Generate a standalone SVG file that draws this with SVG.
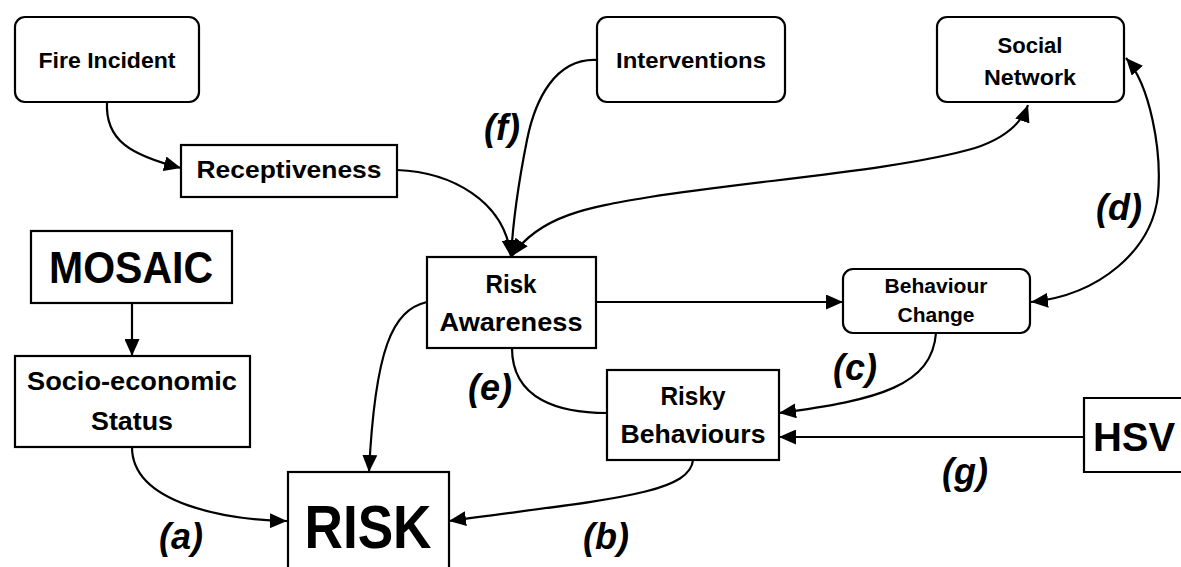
<svg xmlns="http://www.w3.org/2000/svg" width="1181" height="567" viewBox="0 0 1181 567">
<style>
.box{fill:#fff;stroke:#000;stroke-width:2.2}
.t{font-family:"Liberation Sans",Arial,sans-serif;font-weight:bold;fill:#000;text-anchor:middle}
.lbl{font-family:"Liberation Sans",Arial,sans-serif;font-weight:bold;font-style:italic;font-size:36px;fill:#000;text-anchor:middle}
.c{fill:none;stroke:#000;stroke-width:2.2}
</style>
<defs>
<marker id="arr" viewBox="0 0 10 10" refX="10" refY="5" markerWidth="17" markerHeight="15" markerUnits="userSpaceOnUse" orient="auto-start-reverse" preserveAspectRatio="none">
<path d="M0,0 L10,5 L0,10 z" fill="#000"/>
</marker>
</defs>
<rect width="1181" height="567" fill="#fff"/>
<g id="connectors">
<path class="c" d="M107,102 C105,140 130,155 181,168" marker-end="url(#arr)"/>
<path class="c" d="M397,170 C450,172 505,200 511,257" marker-end="url(#arr)"/>
<path class="c" d="M597,60 C555,58 535,100 527,140 C518,185 513,220 511,257" marker-end="url(#arr)"/>
<path class="c" d="M512,256 C540,215 590,207 650,197 C760,180 900,170 975,148 C1005,138 1022,122 1028,105" marker-start="url(#arr)" marker-end="url(#arr)"/>
<path class="c" d="M596,302 L843,302" marker-end="url(#arr)"/>
<path class="c" d="M1126,58 C1150,85 1162,150 1158,195 C1152,250 1100,295 1031,302" marker-start="url(#arr)" marker-end="url(#arr)"/>
<path class="c" d="M936,333 C932,385 880,400 779,413" marker-end="url(#arr)"/>
<path class="c" d="M1084,437 L779,437" marker-end="url(#arr)"/>
<path class="c" d="M512,348 C512,400 560,413 607,413"/>
<path class="c" d="M427,302 C392,310 375,350 369,472" marker-end="url(#arr)"/>
<path class="c" d="M132,447 C132,505 230,520 287,521" marker-end="url(#arr)"/>
<path class="c" d="M693,460 C690,495 600,500 449,521" marker-end="url(#arr)"/>
<path class="c" d="M132,303 L132,356" marker-end="url(#arr)"/>
</g>
<g id="fire-incident">
<rect class="box" x="15" y="17" width="184" height="85" rx="10"/>
<text class="t" x="107" y="68" font-size="22" textLength="137" lengthAdjust="spacingAndGlyphs">Fire Incident</text>
</g>
<g id="receptiveness">
<rect class="box" x="181" y="145" width="216" height="52"/>
<text class="t" x="289" y="178" font-size="24" textLength="185" lengthAdjust="spacingAndGlyphs">Receptiveness</text>
</g>
<g id="interventions">
<rect class="box" x="597" y="17" width="188" height="85" rx="10"/>
<text class="t" x="691" y="68" font-size="22" textLength="150" lengthAdjust="spacingAndGlyphs">Interventions</text>
</g>
<g id="social-network">
<rect class="box" x="937" y="17" width="187" height="85" rx="10"/>
<text class="t" x="1030" y="53" font-size="22" textLength="65" lengthAdjust="spacingAndGlyphs">Social</text>
<text class="t" x="1030" y="85" font-size="22" textLength="92" lengthAdjust="spacingAndGlyphs">Network</text>
</g>
<g id="mosaic">
<rect class="box" x="31" y="231" width="201" height="72"/>
<text class="t" x="131" y="283" font-size="45" textLength="164" lengthAdjust="spacingAndGlyphs">MOSAIC</text>
</g>
<g id="risk-awareness">
<rect class="box" x="427" y="257" width="169" height="91"/>
<text class="t" x="511" y="293" font-size="26" textLength="51" lengthAdjust="spacingAndGlyphs">Risk</text>
<text class="t" x="511" y="331" font-size="26" textLength="143" lengthAdjust="spacingAndGlyphs">Awareness</text>
</g>
<g id="behaviour-change">
<rect class="box" x="843" y="269" width="187" height="64" rx="10"/>
<text class="t" x="936" y="293" font-size="20" textLength="103" lengthAdjust="spacingAndGlyphs">Behaviour</text>
<text class="t" x="936" y="322" font-size="20" textLength="77" lengthAdjust="spacingAndGlyphs">Change</text>
</g>
<g id="socio-economic-status">
<rect class="box" x="15" y="356" width="235" height="91"/>
<text class="t" x="132" y="390" font-size="26" textLength="210" lengthAdjust="spacingAndGlyphs">Socio-economic</text>
<text class="t" x="132" y="430" font-size="26" textLength="82" lengthAdjust="spacingAndGlyphs">Status</text>
</g>
<g id="risky-behaviours">
<rect class="box" x="607" y="370" width="172" height="90"/>
<text class="t" x="693" y="405" font-size="26" textLength="65" lengthAdjust="spacingAndGlyphs">Risky</text>
<text class="t" x="693" y="443" font-size="26" textLength="145" lengthAdjust="spacingAndGlyphs">Behaviours</text>
</g>
<g id="hsv">
<rect x="1084" y="398" width="97" height="74" fill="#fff"/>
<path class="box" d="M1181,398 H1084 V472 H1181" fill="none"/>
<text class="t" x="1134" y="451" font-size="40">HSV</text>
</g>
<g id="risk">
<rect class="box" x="288" y="472" width="161" height="110"/>
<text class="t" x="368" y="548" font-size="62" textLength="127" lengthAdjust="spacingAndGlyphs">RISK</text>
</g>
<g id="labels">
<text class="lbl" x="181" y="549">(a)</text>
<text class="lbl" x="606" y="549">(b)</text>
<text class="lbl" x="855" y="380">(c)</text>
<text class="lbl" x="1119" y="220">(d)</text>
<text class="lbl" x="490" y="400">(e)</text>
<text class="lbl" x="502" y="140">(f)</text>
<text class="lbl" x="965" y="484">(g)</text>
</g>
</svg>
